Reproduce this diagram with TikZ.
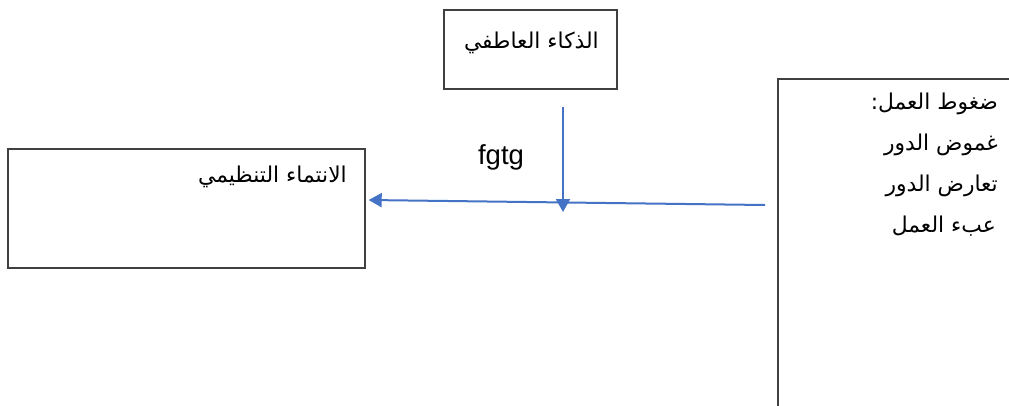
\documentclass[tikz,border=0pt]{standalone}
\usepackage{fontspec}
\setmainfont{Liberation Sans}
\newfontfamily\arabicfont[Script=Arabic]{DejaVu Sans}
\TeXXeTstate=1
\usetikzlibrary{arrows.meta,calc}
\definecolor{linkblue}{HTML}{4472C4}
\definecolor{frame}{HTML}{404040}
\begin{document}
\begin{tikzpicture}[x=1pt,y=-1pt,
  box/.style={draw=frame,line width=1.4pt,inner sep=0pt},
  label/.style={inner sep=0pt,font=\arabicfont\fontsize{21.8}{24}\selectfont,anchor=east},
  link/.style={draw=linkblue,line width=2pt,-{Triangle[length=13pt,width=14pt]}}]
\useasboundingbox (0,0) rectangle (1009,405);
\fill[white] (0,0) rectangle (1009,405);
% boxes
\node[box,minimum width=173pt,minimum height=79pt] (ei) at (530.5,49.5) {};
\node[box,minimum width=357pt,minimum height=119pt] (belong) at (186.5,208.5) {};
% the work-stress box runs off the right and bottom of the picture
\node[box,line width=2.4pt,minimum width=240pt,minimum height=340pt,anchor=north west] (stress) at (777,78) {};
% texts
\node[label] (eitxt) at (599,43) {\beginR الذكاء العاطفي\endR};
\node[label] (belongtxt) at (347,177) {\beginR الانتماء التنظيمي\endR};
\node[label] (s0) at (998,104) {\beginR ضغوط العمل:\endR};
\node[label] (s1) at (998,145) {\beginR غموض الدور\endR};
\node[label] (s2) at (998,186) {\beginR تعارض الدور\endR};
\node[label] (s3) at (996,226) {\beginR عبء العمل\endR};
\node[inner sep=0pt,font=\fontsize{27.5}{30}\selectfont] (lbl) at (501,157) {fgtg};
% connectors
\coordinate (hs) at ($(stress.north west)+(-12,127)$);
\coordinate (he) at ($(belong.east)+(3,-8.5)$);
\coordinate (vs) at ($(ei.south)+(32.5,17)$);
\coordinate (ve) at (563,212);
\path[link] (hs) -- (he);
\path[link] (vs) -- (ve);
\end{tikzpicture}
\end{document}
